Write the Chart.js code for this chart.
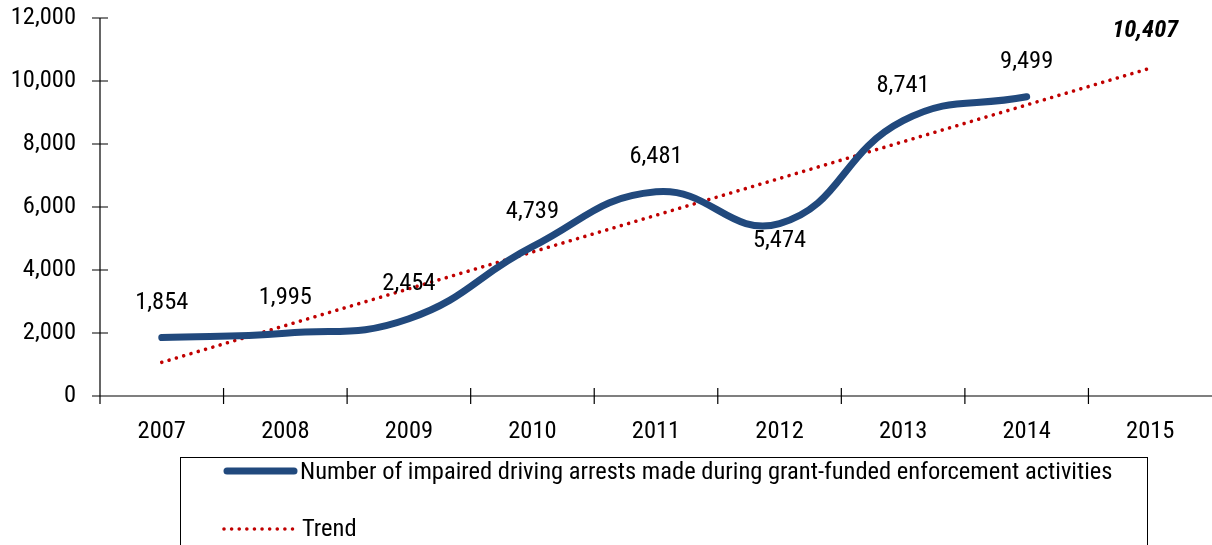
<!DOCTYPE html>
<html>
<head>
<meta charset="utf-8">
<script src="https://cdn.jsdelivr.net/npm/chart.js@4.4.1/dist/chart.umd.min.js"></script>
<style>
  html, body { margin: 0; padding: 0; background: #fff; }
  #wrap { width: 1212px; height: 545px; position: relative; }
</style>
</head>
<body>
<div id="wrap"><canvas id="c" width="1212" height="545"></canvas></div>
<script>
const years = ['2007', '2008', '2009', '2010', '2011', '2012', '2013', '2014', '2015'];
const arrests = [1854, 1995, 2454, 4739, 6481, 5474, 8741, 9499, null];
const trend = [1069, 2237, 3404, 4571, 5738, 6906, 8073, 9240, 10407];
const arrestsLabel = 'Number of impaired driving arrests made during grant-funded enforcement activities';
const trendLabel = 'Trend';
const yMax = 12000;
const yStep = 2000;

const FONT = '"Roboto Condensed", "Liberation Sans Narrow", "Arial Narrow", sans-serif';
const FS = 24.5;
const BLUE = '#21497d';
const RED = '#c00000';

const fmt = v => Number(v).toLocaleString('en-US');

const decorPlugin = {
  id: 'decor',
  afterDraw(chart) {
    const ctx = chart.ctx;
    const ca = chart.chartArea;
    const xs = chart.scales.x;
    const ys = chart.scales.y;
    ctx.save();
    ctx.strokeStyle = '#000';
    ctx.lineWidth = 1.2;
    ctx.beginPath();
    ctx.moveTo(ca.left, ca.top);
    ctx.lineTo(ca.left, ca.bottom + 8);
    ctx.moveTo(ca.left - 8, ca.bottom);
    ctx.lineTo(ca.right, ca.bottom);
    ys.ticks.forEach((t, i) => {
      const py = ys.getPixelForTick(i);
      ctx.moveTo(ca.left - 8, py);
      ctx.lineTo(ca.left + 8, py);
    });
    const n = years.length;
    const w = (xs.getPixelForValue(1) - xs.getPixelForValue(0));
    for (let i = 0; i <= n; i++) {
      const px = xs.getPixelForValue(0) - w / 2 + i * w;
      if (px > ca.right - 1) continue;
      ctx.moveTo(px, ca.bottom - 8);
      ctx.lineTo(px, ca.bottom + 8);
    }
    ctx.stroke();

    ctx.fillStyle = '#000';
    ctx.textAlign = 'center';
    ctx.textBaseline = 'middle';
    ctx.font = FS + 'px ' + FONT;
    const m0 = chart.getDatasetMeta(0);
    m0.data.forEach((pt, i) => {
      const v = arrests[i];
      if (v == null) return;
      const below = i > 0 && arrests[i + 1] != null && v < arrests[i - 1] && v < arrests[i + 1];
      const dy = below ? 17 : -35;
      ctx.fillText(fmt(v), pt.x, pt.y + dy);
    });
    const m1 = chart.getDatasetMeta(1);
    const last = m1.data[m1.data.length - 1];
    ctx.font = 'italic bold ' + FS + 'px ' + FONT;
    ctx.fillText(fmt(trend[trend.length - 1]), last.x - 5, last.y - 37);

    ctx.lineWidth = 1;
    ctx.strokeStyle = '#000';
    ctx.strokeRect(180.5, 457.5, 967, 100);
    ctx.lineCap = 'round';
    ctx.strokeStyle = BLUE;
    ctx.lineWidth = 7;
    ctx.beginPath();
    ctx.moveTo(227, 471);
    ctx.lineTo(294, 471);
    ctx.stroke();
    ctx.strokeStyle = RED;
    ctx.lineWidth = 3.6;
    ctx.setLineDash([0.01, 7.6]);
    ctx.beginPath();
    ctx.moveTo(224, 529);
    ctx.lineTo(297, 529);
    ctx.stroke();
    ctx.setLineDash([]);
    ctx.fillStyle = '#000';
    ctx.font = FS + 'px ' + FONT;
    ctx.textAlign = 'left';
    ctx.fillText(arrestsLabel, 300, 473);
    ctx.fillText(trendLabel, 302, 530);
    ctx.restore();
  }
};

new Chart(document.getElementById('c'), {
  type: 'line',
  data: {
    labels: years,
    datasets: [
      {
        label: arrestsLabel,
        data: arrests,
        borderColor: BLUE,
        borderWidth: 7,
        borderCapStyle: 'round',
        borderJoinStyle: 'round',
        tension: 0.45,
        pointRadius: 0,
        fill: false,
        spanGaps: false
      },
      {
        label: trendLabel,
        data: trend,
        borderColor: RED,
        borderWidth: 3.6,
        borderCapStyle: 'round',
        borderDash: [0.01, 7.6],
        tension: 0,
        pointRadius: 0,
        fill: false
      }
    ]
  },
  options: {
    responsive: false,
    animation: false,
    layout: { padding: { top: 18, right: 0, bottom: 89, left: 0 } },
    plugins: { legend: { display: false }, tooltip: { enabled: false } },
    scales: {
      x: {
        type: 'category',
        offset: true,
        grid: { display: false },
        border: { display: false },
        ticks: { color: '#000', font: { family: FONT, size: FS }, padding: 13, maxRotation: 0 },
        afterFit(s) { s.height = 60; }
      },
      y: {
        min: 0,
        max: yMax,
        grid: { display: false },
        border: { display: false },
        ticks: { stepSize: yStep, color: '#000', font: { family: FONT, size: FS }, padding: 16, callback: v => fmt(v) },
        afterFit(s) { s.width = 100; s.paddingTop = 0; s.paddingBottom = 0; }
      }
    }
  },
  plugins: [decorPlugin]
});
</script>
</body>
</html>
